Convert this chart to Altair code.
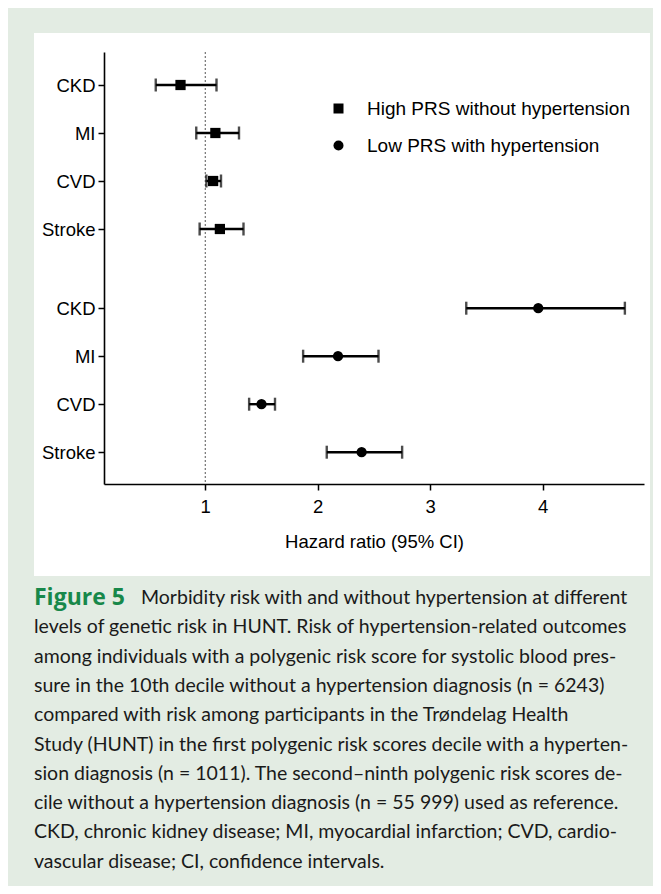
import altair as alt
import pandas as pd

# ---------------- data ----------------
outcomes = ["CKD", "MI", "CVD", "Stroke"]
series_names = ["High PRS without hypertension", "Low PRS with hypertension"]
series_shapes = ["square", "circle"]

hr_high = [0.78, 1.09, 1.07, 1.13]
lo_high = [0.56, 0.92, 1.01, 0.95]
hi_high = [1.10, 1.30, 1.14, 1.34]

hr_low = [3.96, 2.18, 1.50, 2.39]
lo_low = [3.32, 1.87, 1.39, 2.08]
hi_low = [4.73, 2.54, 1.62, 2.75]

x_ticks = [1, 2, 3, 4]
reference_hr = [1]

caption_title = "Figure 5"
caption_first = "Morbidity risk with and without hypertension at different"
caption_lines = [
    "levels of genetic risk in HUNT. Risk of hypertension-related outcomes",
    "among individuals with a polygenic risk score for systolic blood pres-",
    "sure in the 10th decile without a hypertension diagnosis (n = 6243)",
    "compared with risk among participants in the Trøndelag Health",
    "Study (HUNT) in the first polygenic risk scores decile with a hyperten-",
    "sion diagnosis (n = 1011). The second–ninth polygenic risk scores de-",
    "cile without a hypertension diagnosis (n = 55 999) used as reference.",
    "CKD, chronic kidney disease; MI, myocardial infarction; CVD, cardio-",
    "vascular disease; CI, confidence intervals.",
]

# ---------------- layout constants ----------------
GROUP_OFFSET = 4.65          # vertical gap between the two groups (in row units)
W, H = 540, 432
FONT = "Liberation Sans"
FS = 18.5
CAP_FONT = "Lato"
CAP_FS = 19.5

rows = []
for s_idx, (hr, lo, hi) in enumerate([(hr_high, lo_high, hi_high), (hr_low, lo_low, hi_low)]):
    for i, name in enumerate(outcomes):
        rows.append({
            "outcome": name,
            "series": series_names[s_idx],
            "slot": i + s_idx * GROUP_OFFSET,
            "hr": hr[i], "lo": lo[i], "hi": hi[i],
        })
df = pd.DataFrame(rows)
slots = list(df["slot"])
labels = list(df["outcome"])

label_expr = "''"
for sl, lab in reversed(list(zip(slots, labels))):
    label_expr = f"abs(datum.value - {sl}) < 0.01 ? '{lab}' : " + label_expr

x_scale = alt.Scale(domain=[0.1, 4.9], nice=False, zero=False)
y_scale = alt.Scale(domain=[-0.6875, 8.3125], nice=False, zero=False, reverse=True)

x_axis = alt.Axis(values=x_ticks, title="Hazard ratio (95% CI)", grid=False,
                  labelFontSize=FS, titleFontSize=FS, labelFont=FONT, titleFont=FONT,
                  titleFontWeight="normal", labelColor="black", titleColor="black",
                  domainColor="black", domainWidth=1.6, tickColor="black", tickWidth=1.5,
                  tickSize=6, labelPadding=7, titlePadding=17, zindex=1)
y_axis = alt.Axis(values=slots, labelExpr=label_expr, title=None, grid=False,
                  labelFontSize=FS, labelFont=FONT, labelColor="black",
                  domainColor="black", domainWidth=1.6, tickColor="black", tickWidth=1.5,
                  tickSize=6, labelPadding=3, zindex=1)

one = pd.DataFrame({"a": [0]})

panel = alt.Chart(one).mark_rect(color="white").encode(
    x=alt.value(-70), x2=alt.value(546), y=alt.value(-19), y2=alt.value(524)
)

ref = alt.Chart(pd.DataFrame({"ref": reference_hr})).mark_rule(
    color="#555555", strokeDash=[2, 2], strokeWidth=1
).encode(x=alt.X("ref:Q", scale=x_scale, axis=x_axis))

base = alt.Chart(df)

bars = base.mark_rule(color="black", strokeWidth=2.4).encode(
    x=alt.X("lo:Q", scale=x_scale, axis=x_axis),
    x2="hi:Q",
    y=alt.Y("slot:Q", scale=y_scale, axis=y_axis),
)
cap_lo = base.mark_tick(color="black", orient="vertical", size=13, thickness=2.4).encode(
    x=alt.X("lo:Q", scale=x_scale, axis=x_axis),
    y=alt.Y("slot:Q", scale=y_scale, axis=y_axis),
)
cap_hi = base.mark_tick(color="black", orient="vertical", size=13, thickness=2.4).encode(
    x=alt.X("hi:Q", scale=x_scale, axis=x_axis),
    y=alt.Y("slot:Q", scale=y_scale, axis=y_axis),
)
points = base.mark_point(filled=True, opacity=1, size=105, color="black").encode(
    x=alt.X("hr:Q", scale=x_scale, axis=x_axis),
    y=alt.Y("slot:Q", scale=y_scale, axis=y_axis),
    shape=alt.Shape("series:N", scale=alt.Scale(domain=series_names, range=series_shapes),
                    legend=alt.Legend(orient="none", legendX=225, legendY=47, title=None,
                                      labelFontSize=19, labelFont=FONT, labelColor="black",
                                      labelLimit=0,
                                      symbolSize=100, symbolFillColor="black",
                                      symbolStrokeWidth=0, rowPadding=17, labelOffset=19,
                                      padding=0)),
)

layers = [panel, ref, bars, cap_lo, cap_hi, points]

layers.append(alt.Chart(one).mark_text(
    text=caption_title, font="Open Sans", fontWeight="bold", fontSize=23,
    color="#17884a", align="left", baseline="middle"
).encode(x=alt.value(-70), y=alt.value(546)))
layers.append(alt.Chart(one).mark_text(
    text=caption_first, font=CAP_FONT, fontSize=CAP_FS, color="#1a1a1a",
    align="left", baseline="middle"
).encode(x=alt.value(37), y=alt.value(546)))
for i, line in enumerate(caption_lines):
    layers.append(alt.Chart(one).mark_text(
        text=line, font=CAP_FONT, fontSize=CAP_FS, color="#1a1a1a",
        align="left", baseline="middle"
    ).encode(x=alt.value(-70), y=alt.value(546 + (i + 1) * 29.3)))

chart = alt.layer(*layers).properties(
    width=W, height=H,
    autosize=alt.AutoSizeParams(type="none"),
    padding={"left": 96, "top": 44, "right": 9, "bottom": 402},
).configure(background="#e3ece3").configure_view(strokeWidth=0)

chart.save("out.html", embed_options={"renderer": "svg", "actions": False})
